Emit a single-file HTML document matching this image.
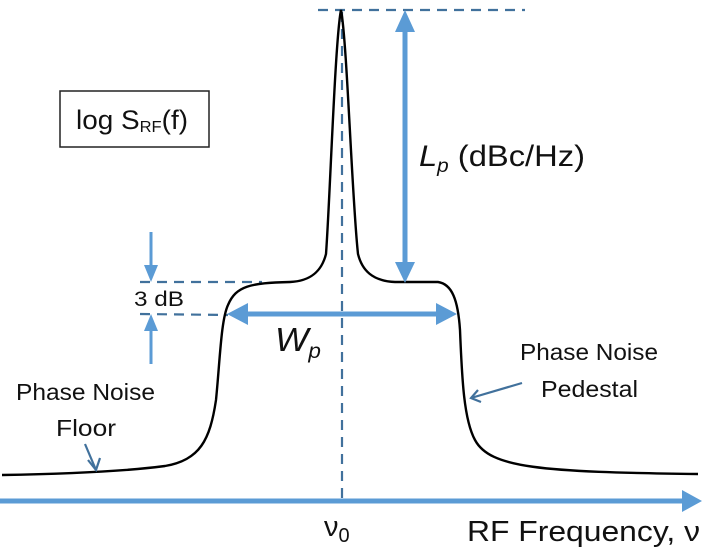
<!DOCTYPE html>
<html><head><meta charset="utf-8"><style>
html,body{margin:0;padding:0;background:#fff;}
svg{display:block;}
text{font-family:"Liberation Sans",sans-serif;fill:#111;}
</style></head><body>
<svg width="711" height="552" viewBox="0 0 711 552" xmlns="http://www.w3.org/2000/svg">
<g stroke="#41719c" stroke-width="2.2" stroke-dasharray="10,7" fill="none">
<line x1="318" y1="10" x2="525" y2="10"/>
<line x1="342" y1="12" x2="342" y2="505"/>
<line x1="140" y1="282" x2="262" y2="282"/>
<line x1="140" y1="314" x2="228" y2="315"/>
</g>
<path d="M2,475 C60,474 120,472 165,466 C200,460 210,440 216,400 C220,360 221,320 228,305 C236,286 250,283 290,282 C312,281 322,270 326,254 C330,200 335,40 341,10 C347,40 352,200 358,254 C362,270 372,281 395,282 L438,282 C452,284 458,300 460,330 C462,380 464,420 475,440 C490,468 540,472 698,474"
 fill="none" stroke="#000" stroke-width="2.4"/>
<g stroke="#5b9bd5" stroke-width="5" fill="none">
<line x1="405" y1="30" x2="405" y2="265"/>
<line x1="246" y1="314" x2="440" y2="314"/>
<line x1="0" y1="501" x2="684" y2="501"/>
</g>
<g stroke="#5b9bd5" stroke-width="3" fill="none">
<line x1="151" y1="232" x2="151" y2="266"/>
<line x1="151" y1="330" x2="151" y2="364"/>
</g>
<g fill="#5b9bd5">
<path d="M395,32 L405,10 L415,32z"/>
<path d="M395,262 L405,283 L415,262z"/>
<path d="M248,303 L227,314 L248,325z"/>
<path d="M436,303 L457,314 L436,325z"/>
<path d="M682,490 L702,501 L682,512z"/>
<path d="M144,265 L151,282 L158,265z"/>
<path d="M144,331 L151,314 L158,331z"/>
</g>
<g stroke="#41719c" stroke-width="2.2" fill="none">
<line x1="85" y1="444" x2="96" y2="470"/>
<path d="M88,460 L96,470 L100,458"/>
<line x1="522" y1="383" x2="471" y2="398"/>
<path d="M478,390 L471,398 L481,402"/>
</g>
<rect x="60" y="91" width="149" height="56" fill="none" stroke="#222" stroke-width="1.5"/>
<text x="76" y="129" font-size="27" textLength="112" lengthAdjust="spacingAndGlyphs">log S<tspan font-size="16" dy="3">RF</tspan><tspan dy="-3">(f)</tspan></text>
<text x="419" y="166" font-size="30" textLength="166" lengthAdjust="spacingAndGlyphs"><tspan font-style="italic">L</tspan><tspan font-style="italic" font-size="19" dy="6">p</tspan><tspan dy="-6"> (dBc/Hz)</tspan></text>
<text x="275" y="351" font-size="33" font-style="italic" textLength="46" lengthAdjust="spacingAndGlyphs">W<tspan font-size="21" dy="7">p</tspan></text>
<text x="134" y="306" font-size="21" textLength="50" lengthAdjust="spacingAndGlyphs">3 dB</text>
<text x="16" y="400" font-size="23" textLength="139" lengthAdjust="spacingAndGlyphs">Phase Noise</text>
<text x="56" y="436" font-size="23" textLength="60" lengthAdjust="spacingAndGlyphs">Floor</text>
<text x="520" y="360" font-size="23" textLength="138" lengthAdjust="spacingAndGlyphs">Phase Noise</text>
<text x="541" y="397" font-size="23" textLength="97" lengthAdjust="spacingAndGlyphs">Pedestal</text>
<text x="324" y="536" font-size="29">ν<tspan font-size="20" dy="6">0</tspan></text>
<text x="467" y="541" font-size="29" textLength="233" lengthAdjust="spacingAndGlyphs">RF Frequency, ν</text>
</svg>
</body></html>
